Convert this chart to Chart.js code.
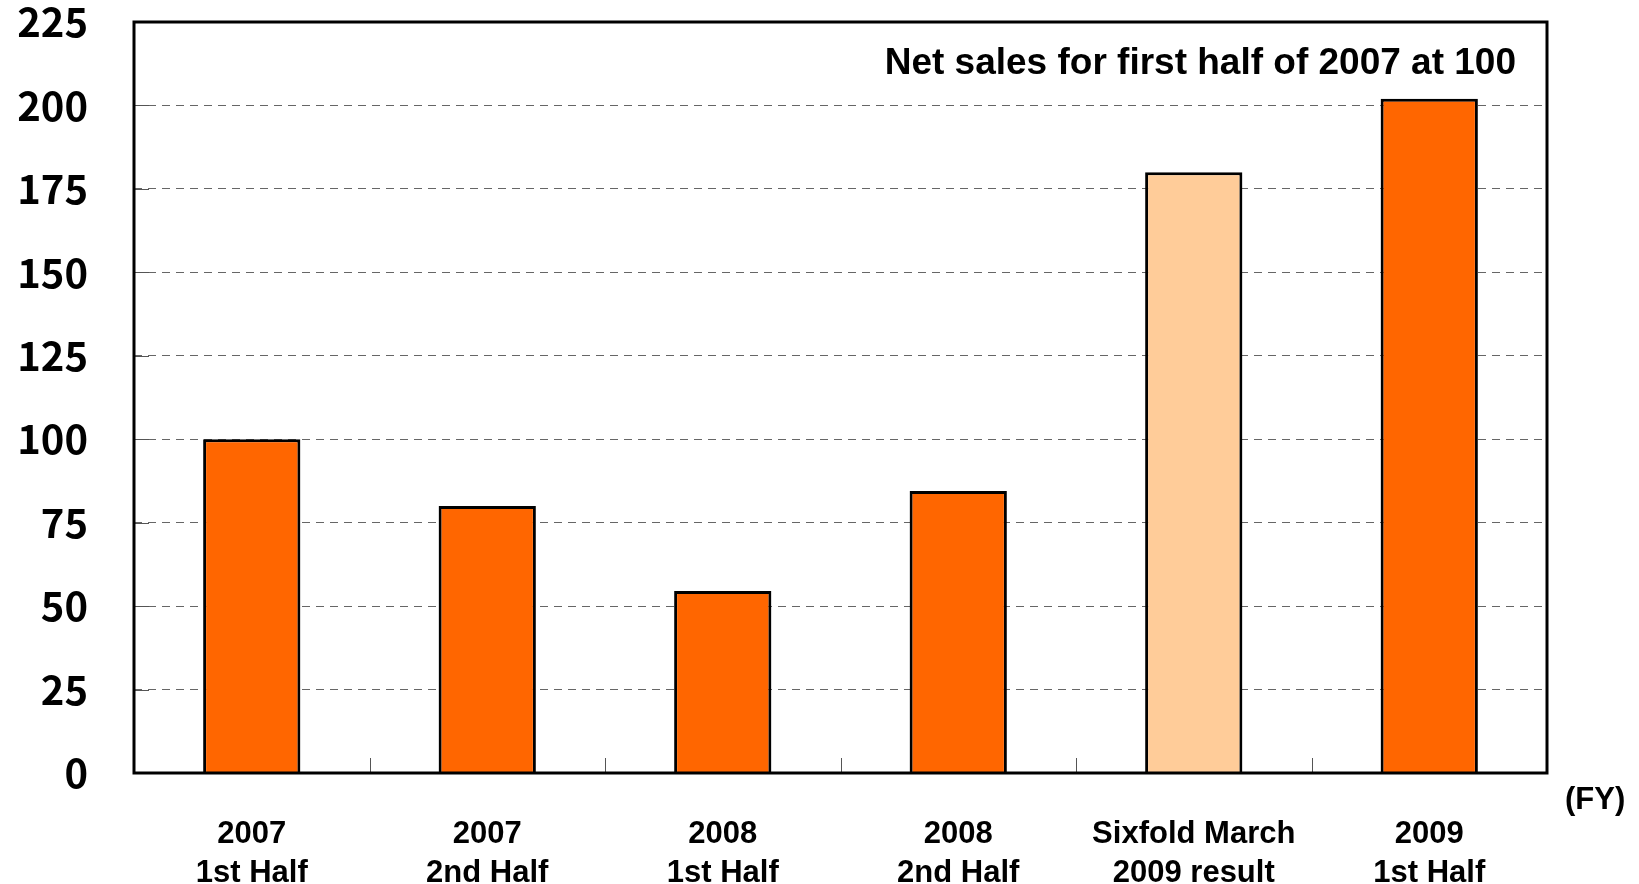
<!DOCTYPE html>
<html>
<head>
  <meta charset="UTF-8" />
  <title>Net sales index</title>
  <style>
    html, body { margin: 0; padding: 0; background: #fff; }
    canvas { display: block; }
  </style>
  <script src="https://cdn.jsdelivr.net/npm/chart.js"></script>
</head>
<body>
  <canvas id="salesChart" width="1639" height="884"></canvas>
  <script>
    // periods (two-line labels) and net sales index, first half of 2007 = 100
    const periods = [
      ["2007", "1st Half"],
      ["2007", "2nd Half"],
      ["2008", "1st Half"],
      ["2008", "2nd Half"],
      ["Sixfold March", "2009 result"],
      ["2009", "1st Half"]
    ];
    const salesIndex = [100, 80, 54.5, 84.5, 180, 202];
    const barColors = ["#FF6600", "#FF6600", "#FF6600", "#FF6600", "#FFCC99", "#FF6600"];
    const yMin = 0, yMax = 225, yStep = 25;
    const noteText = "Net sales for first half of 2007 at 100";
    const unitText = "(FY)";

    // frame round the plot area, short inward ticks and the two text notes
    const framePlugin = {
      id: "frame",
      afterDatasetsDraw(chart) {
        const { ctx, chartArea: a, scales } = chart;
        const x = scales.x, y = scales.y;
        ctx.save();

        ctx.strokeStyle = "#555";
        ctx.lineWidth = 1;
        ctx.beginPath();
        for (let i = 1; i < periods.length; i++) {
          const px = Math.round((x.getPixelForValue(i - 1) + x.getPixelForValue(i)) / 2) + 0.5;
          ctx.moveTo(px, a.bottom);
          ctx.lineTo(px, a.bottom - 15);
        }
        for (let v = yMin + yStep; v < yMax; v += yStep) {
          const py = Math.round(y.getPixelForValue(v)) + 0.5;
          ctx.moveTo(a.left, py);
          ctx.lineTo(a.left + 15, py);
        }
        ctx.stroke();

        ctx.strokeStyle = "#000";
        ctx.lineWidth = 3;
        ctx.strokeRect(a.left, a.top, a.right - a.left, a.bottom - a.top);

        ctx.fillStyle = "#000";
        ctx.font = "bold 37px 'Liberation Sans', Arial, sans-serif";
        ctx.textAlign = "right";
        ctx.textBaseline = "middle";
        ctx.fillText(noteText, a.right - 31, a.top + 42);

        ctx.font = "bold 31px 'Liberation Sans', Arial, sans-serif";
        ctx.textAlign = "left";
        ctx.fillText(unitText, a.right + 18, a.bottom + 27);
        ctx.restore();
      }
    };

    new Chart(document.getElementById("salesChart"), {
      type: "bar",
      data: {
        labels: periods,
        datasets: [{
          data: salesIndex,
          backgroundColor: barColors,
          borderColor: "#000",
          borderWidth: 3,
          barPercentage: 0.413,
          categoryPercentage: 1
        }]
      },
      options: {
        responsive: false,
        animation: false,
        layout: { padding: { top: 22, right: 92, left: 0, bottom: 0 } },
        plugins: { legend: { display: false }, tooltip: { enabled: false } },
        scales: {
          x: {
            grid: { display: false, drawTicks: false },
            border: { display: false },
            ticks: {
              color: "#000",
              padding: 42,
              maxRotation: 0,
              font: { family: "'Liberation Sans', Arial, sans-serif", size: 31, weight: "bold", lineHeight: 1.25 }
            },
            afterFit(scale) { scale.height = 111; }
          },
          y: {
            min: yMin,
            max: yMax,
            grid: {
              color: (c) => (c.tick && (c.tick.value === yMin || c.tick.value === yMax)) ? "rgba(0,0,0,0)" : "#666",
              lineWidth: 1,
              drawTicks: false
            },
            border: { display: false, dash: [8, 6] },
            ticks: {
              stepSize: yStep,
              color: "#000",
              padding: 46,
              font: { family: "'Noto Sans CJK JP', 'DejaVu Sans', sans-serif", size: 40, weight: "bold", lineHeight: 1.15 }
            },
            afterFit(scale) {
              scale.width = 134;
              // the tick padding would otherwise push the plot top down
              scale.paddingTop = 0;
              scale.paddingBottom = 0;
            }
          }
        }
      },
      plugins: [framePlugin]
    });
  </script>
</body>
</html>
